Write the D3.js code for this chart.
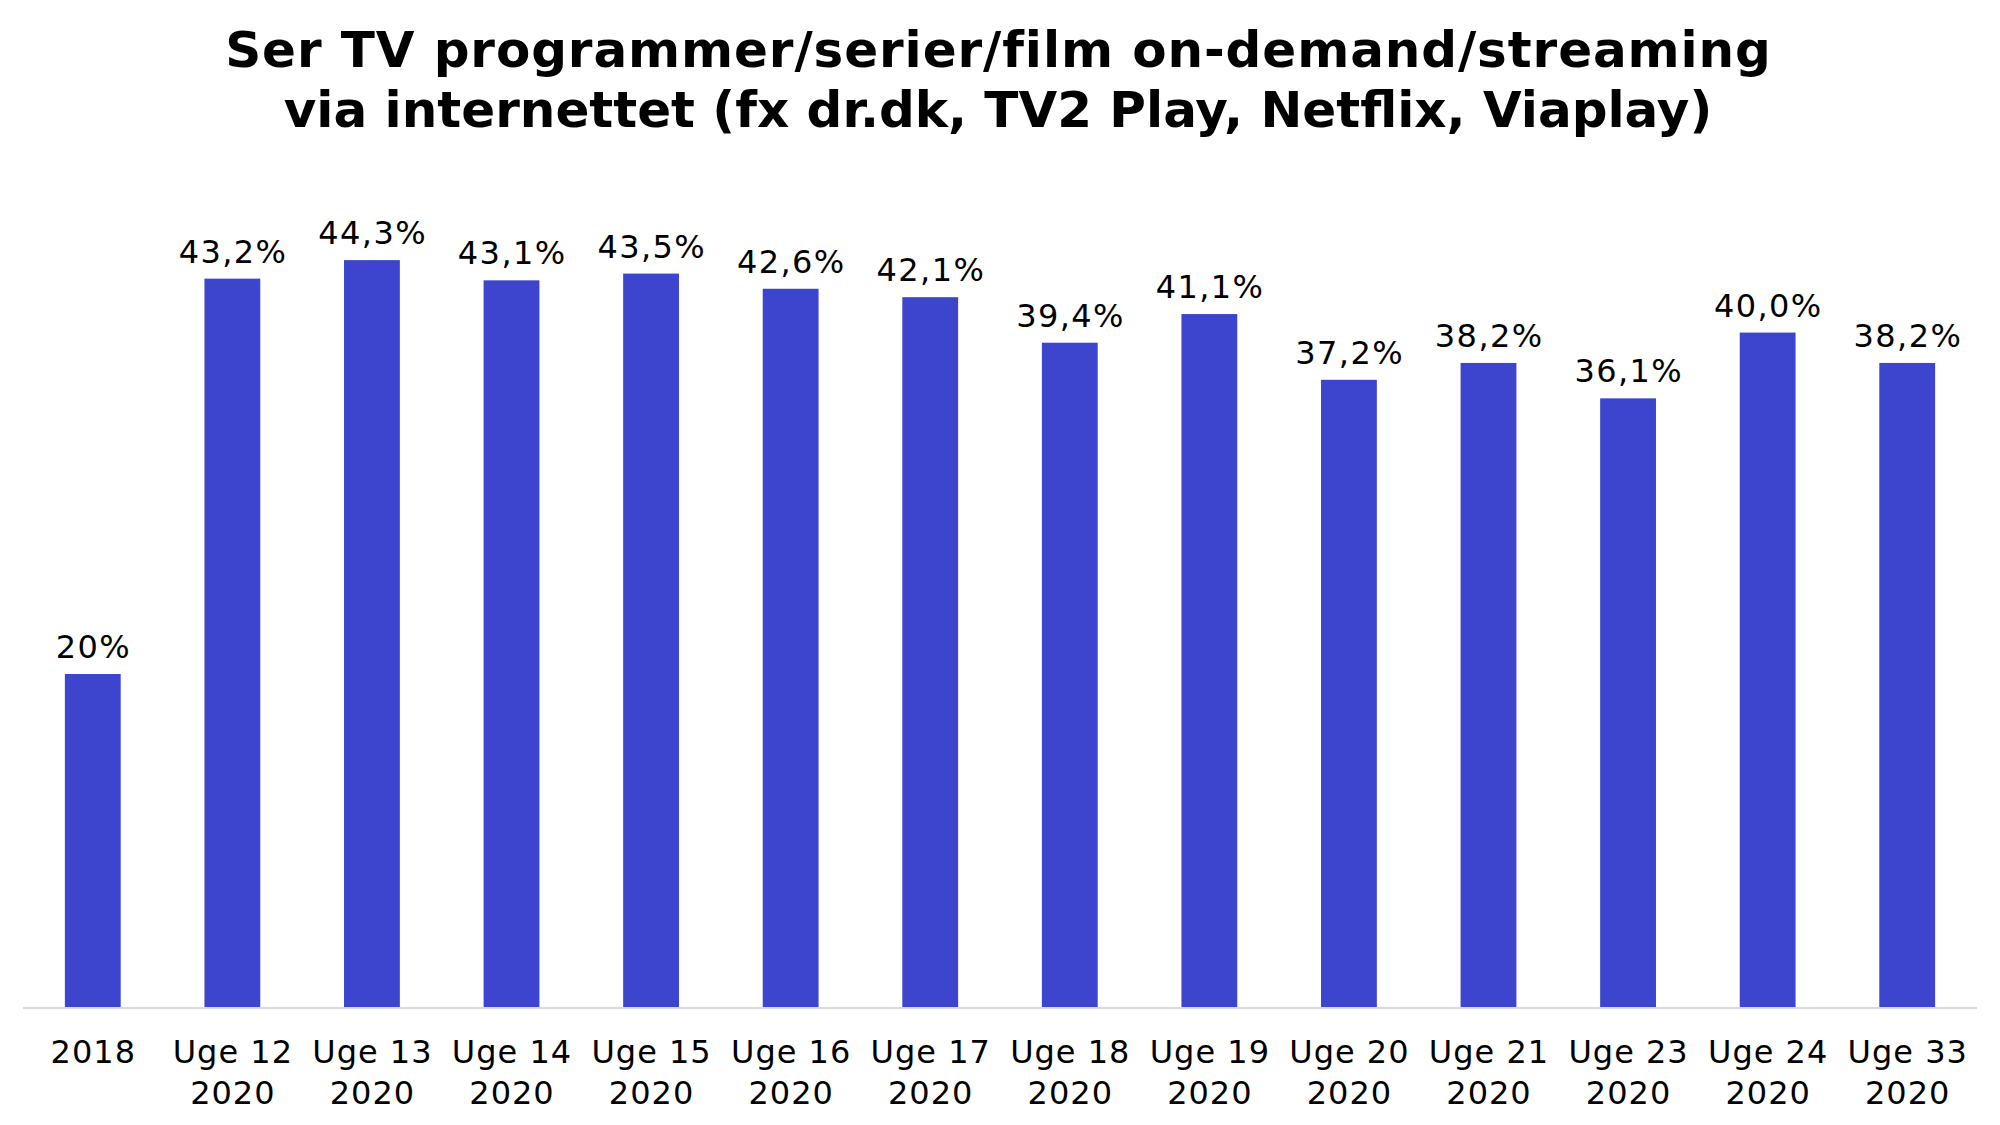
<!DOCTYPE html>
<html>
<head>
<meta charset="utf-8">
<script src="https://cdn.jsdelivr.net/npm/d3@7"></script>
<style>
  html, body { margin: 0; padding: 0; background: #fff; }
  svg { display: block; }
</style>
</head>
<body>
<script>
const titleLines = ["Ser TV programmer/serier/film on-demand/streaming", "via internettet (fx dr.dk, TV2 Play, Netflix, Viaplay)"];
const categoriesLine1 = ["2018", "Uge 12", "Uge 13", "Uge 14", "Uge 15", "Uge 16", "Uge 17", "Uge 18", "Uge 19", "Uge 20", "Uge 21", "Uge 23", "Uge 24", "Uge 33"];
const categoriesLine2 = ["", "2020", "2020", "2020", "2020", "2020", "2020", "2020", "2020", "2020", "2020", "2020", "2020", "2020"];
const values = [19.75, 43.2, 44.3, 43.1, 43.5, 42.6, 42.1, 39.4, 41.1, 37.2, 38.2, 36.1, 40.0, 38.2];
const valueLabels = ["20%", "43,2%", "44,3%", "43,1%", "43,5%", "42,6%", "42,1%", "39,4%", "41,1%", "37,2%", "38,2%", "36,1%", "40,0%", "38,2%"];

const W = 2000, H = 1125;
const svg = d3.select("body").append("svg").attr("width", W).attr("height", H);
const FONT = "Verdana, 'DejaVu Sans', sans-serif";

// Title
const titleSpacing = ["0.9px", "0px"];
svg.append("text")
  .attr("x", 998).attr("y", 67)
  .attr("text-anchor", "middle")
  .style("font-family", FONT).style("font-weight", "bold").style("font-size", "50px")
  .selectAll("tspan").data(titleLines).join("tspan")
  .attr("x", (d, i) => i === 0 ? 998.5 : 998)
  .attr("dy", (d, i) => i === 0 ? 0 : 60)
  .style("letter-spacing", (d, i) => titleSpacing[i])
  .text(d => d);

const idx = d3.range(values.length);
const x = d3.scaleBand().domain(idx).range([23, 1977]).paddingInner(0.6).paddingOuter(0.3);
const y = d3.scaleLinear().domain([0, 50]).range([1007, 164]);

// Bars
svg.append("g").selectAll("rect").data(idx).join("rect")
  .attr("x", i => x(i))
  .attr("width", x.bandwidth())
  .attr("y", i => y(values[i]))
  .attr("height", i => y(0) - y(values[i]))
  .attr("fill", "#3d45cf");

// Axis
const axis = svg.append("g").attr("transform", `translate(0,${y(0) + 1})`)
  .call(d3.axisBottom(x).tickSize(0).tickFormat(""));
axis.select(".domain").attr("stroke", "#d9d9d9").attr("stroke-width", 2)
  .attr("d", "M23,0H1977");

// Category labels
const lab = svg.append("g").selectAll("text").data(idx).join("text")
  .attr("x", i => x(i) + x.bandwidth() / 2)
  .attr("y", 1063)
  .attr("text-anchor", "middle")
  .style("font-family", FONT).style("font-size", "32px").style("letter-spacing", "1px").attr("fill", "#000");
lab.append("tspan").attr("x", i => x(i) + x.bandwidth() / 2 + 0.5).text(i => categoriesLine1[i]);
lab.append("tspan").attr("x", i => x(i) + x.bandwidth() / 2 + 0.5).attr("dy", 41).text(i => categoriesLine2[i]);

// Value labels
svg.append("g").selectAll("text").data(idx).join("text")
  .attr("x", i => x(i) + x.bandwidth() / 2 + 0.7)
  .attr("y", i => y(values[i]) - 16)
  .attr("text-anchor", "middle")
  .style("font-family", FONT).style("font-size", "32px").style("letter-spacing", "1.4px").attr("fill", "#000")
  .text(i => valueLabels[i]);
</script>
</body>
</html>
